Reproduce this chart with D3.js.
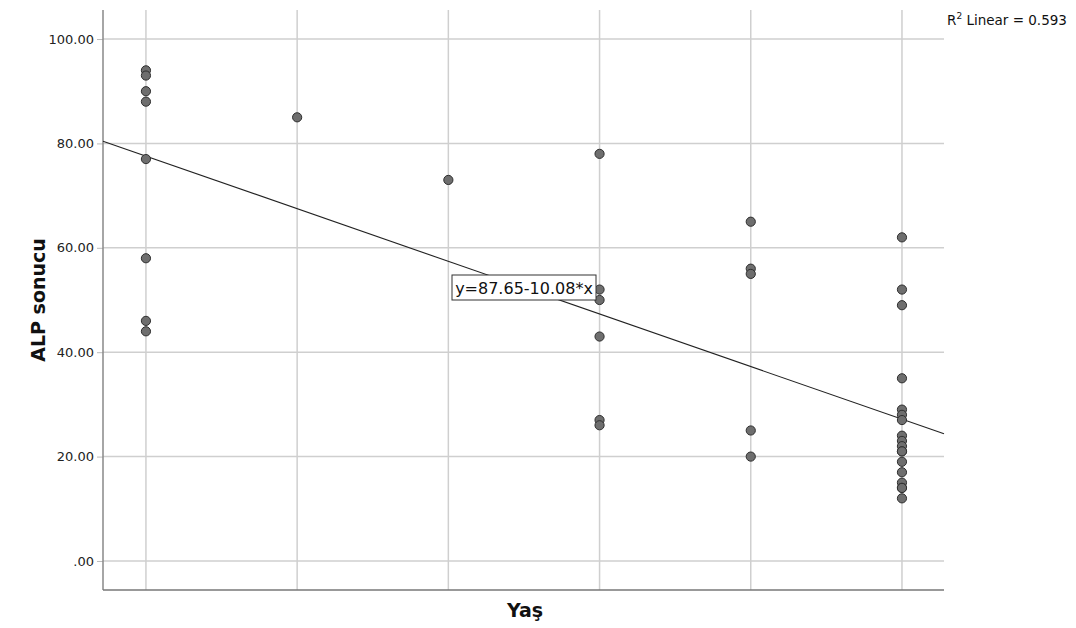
<!DOCTYPE html>
<html>
<head>
<meta charset="utf-8">
<script src="https://cdn.jsdelivr.net/npm/d3@7"></script>
<style>
  html, body { margin: 0; padding: 0; background: #fff; }
  svg { display: block; font-family: "DejaVu Sans", "Liberation Sans", sans-serif; }
</style>
</head>
<body>
<svg id="chart" width="1076" height="628"></svg>
<script>
// Age group (Yaş) codes and ALP results per group
const ageGroups = [1, 2, 3, 4, 5, 6];
const alpGroup1 = [94, 93, 90, 88, 77, 58, 46, 44];
const alpGroup2 = [85];
const alpGroup3 = [73];
const alpGroup4 = [78, 52, 50, 43, 27, 26];
const alpGroup5 = [65, 56, 55, 25, 20];
const alpGroup6 = [62, 52, 49, 35, 29, 28, 27, 24, 23, 22, 21, 21, 19, 17, 15, 14, 14, 12];
const alpByGroup = [alpGroup1, alpGroup2, alpGroup3, alpGroup4, alpGroup5, alpGroup6];

// Fitted linear regression
const fitIntercept = 87.65;
const fitSlope = -10.08;
const rSquared = 0.593;

const yTicks = [0, 20, 40, 60, 80, 100];
const xDomain = [0.716, 6.278];
const yDomain = [-5.56, 105.56];

const points = [];
ageGroups.forEach((g, i) => alpByGroup[i].forEach(v => points.push({ x: g, y: v })));

const svg = d3.select("#chart");
const plot = { left: 103, right: 944, top: 10, bottom: 590 };

const x = d3.scaleLinear().domain(xDomain).range([plot.left, plot.right]);
const y = d3.scaleLinear().domain(yDomain).range([plot.bottom, plot.top]);

const gridColor = "#cfcfcf";

// horizontal grid lines
svg.append("g").selectAll("line").data(yTicks).join("line")
  .attr("x1", plot.left).attr("x2", plot.right)
  .attr("y1", d => y(d)).attr("y2", d => y(d))
  .attr("stroke", gridColor).attr("stroke-width", 1.5);

// vertical grid lines at each age group
svg.append("g").selectAll("line").data(ageGroups).join("line")
  .attr("x1", d => x(d)).attr("x2", d => x(d))
  .attr("y1", plot.top).attr("y2", plot.bottom)
  .attr("stroke", gridColor).attr("stroke-width", 1.5);

// y axis
const yAxis = d3.axisLeft(y).tickValues(yTicks).tickSize(6).tickPadding(3)
  .tickFormat(d => d === 0 ? ".00" : d3.format(".2f")(d));
const gy = svg.append("g").attr("transform", `translate(${plot.left},0)`).call(yAxis);
gy.select(".domain").remove();
gy.selectAll(".tick line").attr("stroke", "#bbb");
gy.selectAll(".tick text").attr("fill", "#222")
  .style("font-family", "'DejaVu Sans', sans-serif").style("font-size", "13px");

// axis lines
svg.append("line").attr("x1", plot.left).attr("x2", plot.left)
  .attr("y1", plot.top).attr("y2", plot.bottom)
  .attr("stroke", "#888").attr("stroke-width", 1.5);
svg.append("line").attr("x1", plot.left).attr("x2", plot.right)
  .attr("y1", plot.bottom).attr("y2", plot.bottom)
  .attr("stroke", "#777").attr("stroke-width", 1.5);

// regression line across the plot width
const fit = v => fitIntercept + fitSlope * v;
svg.append("line")
  .attr("x1", x(xDomain[0])).attr("y1", y(fit(xDomain[0])))
  .attr("x2", x(xDomain[1])).attr("y2", y(fit(xDomain[1])))
  .attr("stroke", "#222").attr("stroke-width", 1.1);

// data points
svg.append("g").selectAll("circle").data(points).join("circle")
  .attr("cx", d => x(d.x)).attr("cy", d => y(d.y)).attr("r", 4.6)
  .attr("fill", "#6e6e6e").attr("stroke", "#2e2e2e").attr("stroke-width", 1);

// equation label
const eqText = `y=${fitIntercept.toFixed(2)}${fitSlope.toFixed(2)}*x`;
const eq = svg.append("g");
eq.append("rect").attr("x", 452).attr("y", 275).attr("width", 144).attr("height", 25)
  .attr("fill", "#fff").attr("stroke", "#333").attr("stroke-width", 1);
eq.append("text").attr("x", 524).attr("y", 293.5).attr("text-anchor", "middle")
  .style("font-size", "16px").attr("fill", "#111").text(eqText);

// R² annotation
const r2 = svg.append("text").attr("x", 947).attr("y", 25)
  .style("font-size", "13.5px").attr("fill", "#111");
r2.append("tspan").text("R");
r2.append("tspan").attr("dy", -6).style("font-size", "9px").text("2");
r2.append("tspan").attr("dy", 6).text(` Linear = ${rSquared.toFixed(3)}`);

// axis titles
svg.append("text").attr("x", 525).attr("y", 617).attr("text-anchor", "middle")
  .style("font-size", "19px").style("font-weight", "bold").attr("fill", "#111").text("Yaş");
svg.append("text").attr("transform", "translate(45,300) rotate(-90)").attr("text-anchor", "middle")
  .style("font-size", "19px").style("font-weight", "bold").attr("fill", "#111").text("ALP sonucu");
</script>
</body>
</html>
